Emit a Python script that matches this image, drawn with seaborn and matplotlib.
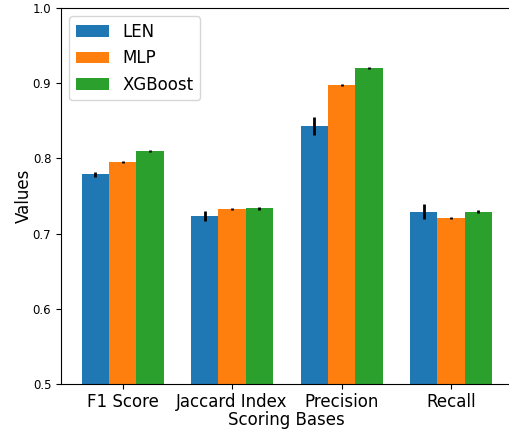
import pandas as pd
import seaborn as sns
from matplotlib import pyplot as plt

# data
metrics = ['F1 Score', 'Jaccard Index', 'Precision', 'Recall']
models = ['LEN', 'MLP', 'XGBoost']
len_vals = [0.779, 0.723, 0.843, 0.729]
mlp_vals = [0.795, 0.733, 0.898, 0.721]
xgb_vals = [0.810, 0.734, 0.920, 0.729]
len_err = [0.0033, 0.0066, 0.0117, 0.0100]
mlp_err = [0.0010, 0.0015, 0.0015, 0.0010]
xgb_err = [0.0015, 0.0020, 0.0015, 0.0020]

rows = []
for model, vals in zip(models, [len_vals, mlp_vals, xgb_vals]):
    for m, v in zip(metrics, vals):
        rows.append({'Scoring Bases': m, 'Model': model, 'Values': v})
df = pd.DataFrame(rows)

fig = plt.figure(figsize=(5.09, 4.33), dpi=100)
ax = fig.add_axes([0.1198, 0.1132, 0.8874, 0.8684])

sns.barplot(data=df, x='Scoring Bases', y='Values', hue='Model',
            hue_order=models, order=metrics, palette='tab10',
            width=0.75, errorbar=None, saturation=1, ax=ax)

# error bars on top of each bar
for cont, errs in zip(ax.containers, [len_err, mlp_err, xgb_err]):
    xs = [p.get_x() + p.get_width() / 2 for p in cont]
    ys = [p.get_height() for p in cont]
    ax.errorbar(xs, ys, yerr=errs, fmt='none', ecolor='black', elinewidth=2)

ax.set_ylim(0.5, 1.0)
ax.set_xlim(-0.5625, 3.5625)
ax.set_xlabel('Scoring Bases', fontsize=12, labelpad=0)
ax.set_ylabel('Values', fontsize=12, labelpad=0)
ax.tick_params(axis='x', labelsize=12, pad=3)
ax.tick_params(axis='y', labelsize=8.5)
ax.legend(loc='upper left', fontsize=12, title=None)

plt.savefig('out.png', dpi=100)
